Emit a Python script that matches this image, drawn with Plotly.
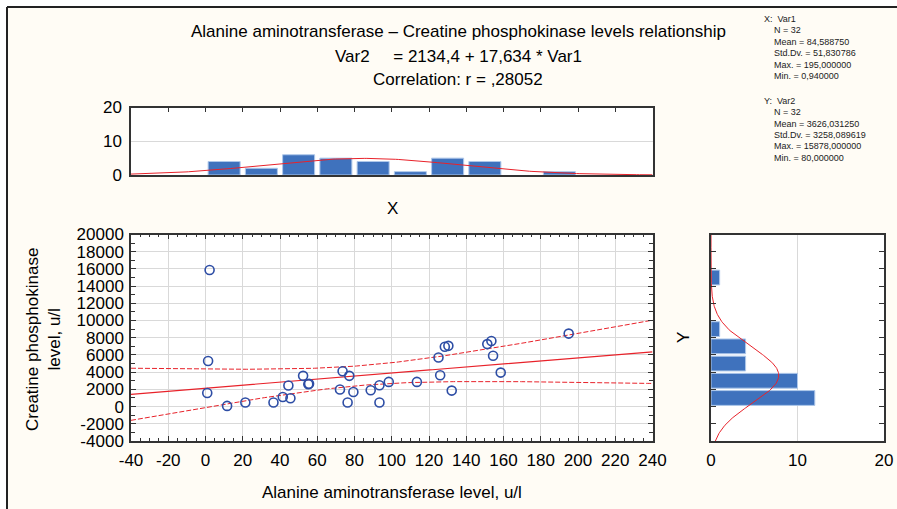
import numpy as np
import plotly.graph_objects as go

# ---- data: ALT (u/l) vs CPK (u/l), 32 patients ----
alt = [2.2, 1.4, 0.94, 11.6, 21.4, 36.5, 41.5, 44.5, 45.6, 52.4, 55.2, 55.6,
       72.2, 73.6, 77.2, 76.3, 79.4, 88.7, 93.4, 93.4, 98.4, 113.5, 125.1, 126.0,
       128.5, 130.4, 132.2, 151.3, 153.5, 154.4, 158.5, 195.0]
cpk = [15878, 5300, 1580, 80, 470, 470, 1120, 2450, 970, 3570, 2600, 2650,
       1980, 4100, 3570, 470, 1700, 1900, 2480, 470, 2870, 2870, 5710, 3650,
       6950, 7060, 1860, 7260, 7630, 5900, 3950, 8480]

# printed summary statistics
N = 32
ALT_MEAN, ALT_SD, ALT_MAX, ALT_MIN = 84.588750, 51.830786, 195.0, 0.94
CPK_MEAN, CPK_SD, CPK_MAX, CPK_MIN = 3626.031250, 3258.089619, 15878.0, 80.0
INTERCEPT, SLOPE = 2134.4, 17.634
R = 0.28052
T_CRIT = 2.042  # Student t, 0.975, df = 30

x_ticks_main = [-40, -20, 0, 20, 40, 60, 80, 100, 120, 140, 160, 180, 200, 220, 240]
y_ticks_main = [-4000, -2000, 0, 2000, 4000, 6000, 8000, 10000, 12000, 14000, 16000, 18000, 20000]

W, H = 897, 509
FONT = "Liberation Sans, Arial, sans-serif"
FS = 17
RED = "#E8222A"
BLUE = "#2D4DA5"
BAR = "#3F72BD"
BAR_EDGE = "#AFC8EA"
AX = "#333333"
GRID = "#D9D9D9"
CREAM = "#FFFCF5"


def px(x):
    return x / W


def py(y):
    return 1 - y / H


# regression line and 95% confidence band for the mean
xs = np.linspace(-40, 240, 200)
fit = INTERCEPT + SLOPE * xs
s_res = CPK_SD * np.sqrt((1 - R ** 2) * (N - 1) / (N - 2))
sxx = (N - 1) * ALT_SD ** 2
half = T_CRIT * s_res * np.sqrt(1 / N + (xs - ALT_MEAN) ** 2 / sxx)

# expected normal counts for the marginal histograms
gx = np.linspace(-40, 240, 200)
nx = N * 20 / (ALT_SD * np.sqrt(2 * np.pi)) * np.exp(-0.5 * ((gx - ALT_MEAN) / ALT_SD) ** 2)
gy = np.linspace(-4000, 20000, 300)
ny = N * 2000 / (CPK_SD * np.sqrt(2 * np.pi)) * np.exp(-0.5 * ((gy - CPK_MEAN) / CPK_SD) ** 2)

fig = go.Figure()

# scatter panel
fig.add_trace(go.Scatter(x=xs, y=fit + half, mode="lines",
                         line=dict(color=RED, width=1, dash="5px,2px"), xaxis="x", yaxis="y"))
fig.add_trace(go.Scatter(x=xs, y=fit - half, mode="lines",
                         line=dict(color=RED, width=1, dash="5px,2px"), xaxis="x", yaxis="y"))
fig.add_trace(go.Scatter(x=xs, y=fit, mode="lines",
                         line=dict(color=RED, width=1.2), xaxis="x", yaxis="y"))
fig.add_trace(go.Scatter(x=alt, y=cpk, mode="markers",
                         marker=dict(symbol="circle-open", size=9, color=BLUE, line=dict(width=1.6, color=BLUE)),
                         xaxis="x", yaxis="y"))

# top histogram of ALT
fig.add_trace(go.Histogram(x=alt, xbins=dict(start=-40, end=240, size=20),
                           marker=dict(color=BAR, line=dict(color=BAR_EDGE, width=1)),
                           xaxis="x2", yaxis="y2"))
fig.add_trace(go.Scatter(x=gx, y=nx, mode="lines", line=dict(color=RED, width=1),
                         xaxis="x2", yaxis="y2"))

# right histogram of CPK
fig.add_trace(go.Histogram(y=cpk, ybins=dict(start=-4000, end=20000, size=2000),
                           marker=dict(color=BAR, line=dict(color=BAR_EDGE, width=1)),
                           xaxis="x3", yaxis="y3"))
fig.add_trace(go.Scatter(x=ny, y=gy, mode="lines", line=dict(color=RED, width=1),
                         xaxis="x3", yaxis="y3"))

main_dom_x = [px(131), px(652.5)]
main_dom_y = [py(441), py(234.5)]
top_dom_y = [py(175), py(107.5)]
right_dom_x = [px(711), px(884)]

common = dict(showline=True, linecolor=AX, linewidth=1.5, zeroline=False, automargin=False,
              tickfont=dict(family=FONT, size=FS, color="black"))

fig.update_layout(
    width=W, height=H, margin=dict(l=0, r=0, t=0, b=0, pad=0, autoexpand=False),
    paper_bgcolor=CREAM, plot_bgcolor="white",
    showlegend=False, bargap=0.14,
    font=dict(family=FONT, color="black"),
    xaxis=dict(domain=main_dom_x, anchor="y", range=[-40, 240],
               tickmode="array", tickvals=x_ticks_main, ticktext=[str(v) for v in x_ticks_main],
               showgrid=True, gridcolor=GRID, gridwidth=1,
               ticks="inside", ticklen=5, tickcolor=AX, mirror="ticks",
               minor=dict(ticks="inside", ticklen=3, dtick=5, tick0=-40, tickcolor=AX, showgrid=False),
               ticklabelstandoff=3, **common),
    yaxis=dict(domain=main_dom_y, anchor="x", range=[-4000, 20000],
               tickmode="array", tickvals=y_ticks_main, ticktext=[str(v) for v in y_ticks_main],
               showgrid=True, gridcolor=GRID, gridwidth=1,
               ticks="inside", ticklen=5, tickcolor=AX, mirror="ticks",
               minor=dict(ticks="inside", ticklen=4, dtick=1000, tick0=-4000, tickcolor=AX, showgrid=False),
               ticklabelstandoff=2, **common),
    xaxis2=dict(domain=main_dom_x, anchor="y2", range=[-40, 240], side="top",
                tickmode="linear", tick0=-40, dtick=20, showticklabels=False,
                ticks="inside", ticklen=5, tickcolor=AX, mirror=True, showgrid=False, **common),
    yaxis2=dict(domain=top_dom_y, anchor="x2", range=[0, 20],
                tickmode="array", tickvals=[0, 10, 20], ticktext=["0", "10", "20"],
                showgrid=True, gridcolor=GRID, ticks="", mirror=True,
                ticklabelstandoff=4, **common),
    xaxis3=dict(domain=right_dom_x, anchor="y3", range=[0, 20],
                tickmode="array", tickvals=[0, 10, 20], ticktext=["0", "10", "20"],
                showgrid=True, gridcolor=GRID, ticks="", mirror=True,
                ticklabelstandoff=3, **common),
    yaxis3=dict(domain=main_dom_y, anchor="x3", range=[-4000, 20000],
                tickmode="linear", tick0=-4000, dtick=2000, showticklabels=False,
                ticks="inside", ticklen=5, tickcolor=AX, mirror="ticks", showgrid=False, **common),
)

# outer frame
fig.add_shape(type="rect", xref="paper", yref="paper", x0=0, x1=1, y0=py(7), y1=1,
              fillcolor="white", line=dict(width=0), layer="below")
fig.add_shape(type="rect", xref="paper", yref="paper", x0=0, x1=px(7), y0=0, y1=1,
              fillcolor="white", line=dict(width=0), layer="below")
fig.add_shape(type="line", xref="paper", yref="paper", x0=px(7), x1=1, y0=py(7), y1=py(7),
              line=dict(color="#222222", width=2))
fig.add_shape(type="line", xref="paper", yref="paper", x0=px(7), x1=px(7), y0=0, y1=py(7),
              line=dict(color="#222222", width=2))


def label(text, x, y, size=FS, angle=0, xanchor="center", yanchor="middle", color="black"):
    fig.add_annotation(text=text, x=px(x), y=py(y), xref="paper", yref="paper",
                       showarrow=False, xanchor=xanchor, yanchor=yanchor, textangle=angle,
                       font=dict(family=FONT, size=size, color=color))


# titles
label("Alanine aminotransferase \u2013 Creatine phosphokinase levels relationship", 458, 31)
label(f"Var2     = {str(INTERCEPT).replace('.', ',')} + {str(SLOPE).replace('.', ',')} * Var1", 458, 57)
label(f"Correlation: r = {('%.5f' % R)[1:].replace('.', ',')}", 458, 80)

# axis titles
label("X", 392, 208)
label("Y", 683, 338, angle=-90)
label("Alanine aminotransferase level, u/l", 392, 492)
label("Creatine phosphokinase<br>level, u/l", 43, 340, angle=-90)


def fmt(v):
    return ("%.6f" % v).replace(".", ",")


stats = [
    ("X:  Var1", None), (f"N = {N}", 1), (f"Mean = {fmt(ALT_MEAN)}", 1),
    (f"Std.Dv. = {fmt(ALT_SD)}", 1), (f"Max. = {fmt(ALT_MAX)}", 1), (f"Min. = {fmt(ALT_MIN)}", 1),
]
stats_y = [
    ("Y:  Var2", None), (f"N = {N}", 1), (f"Mean = {fmt(CPK_MEAN)}", 1),
    (f"Std.Dv. = {fmt(CPK_SD)}", 1), (f"Max. = {fmt(CPK_MAX)}", 1), (f"Min. = {fmt(CPK_MIN)}", 1),
]
for i, (t, ind) in enumerate(stats):
    label(t, 762 if ind is None else 772, 19 + i * 11.4, size=9, xanchor="left", color="#222222")
for i, (t, ind) in enumerate(stats_y):
    label(t, 762 if ind is None else 772, 100.5 + i * 11.5, size=9, xanchor="left", color="#222222")

fig.write_html("out.html")
